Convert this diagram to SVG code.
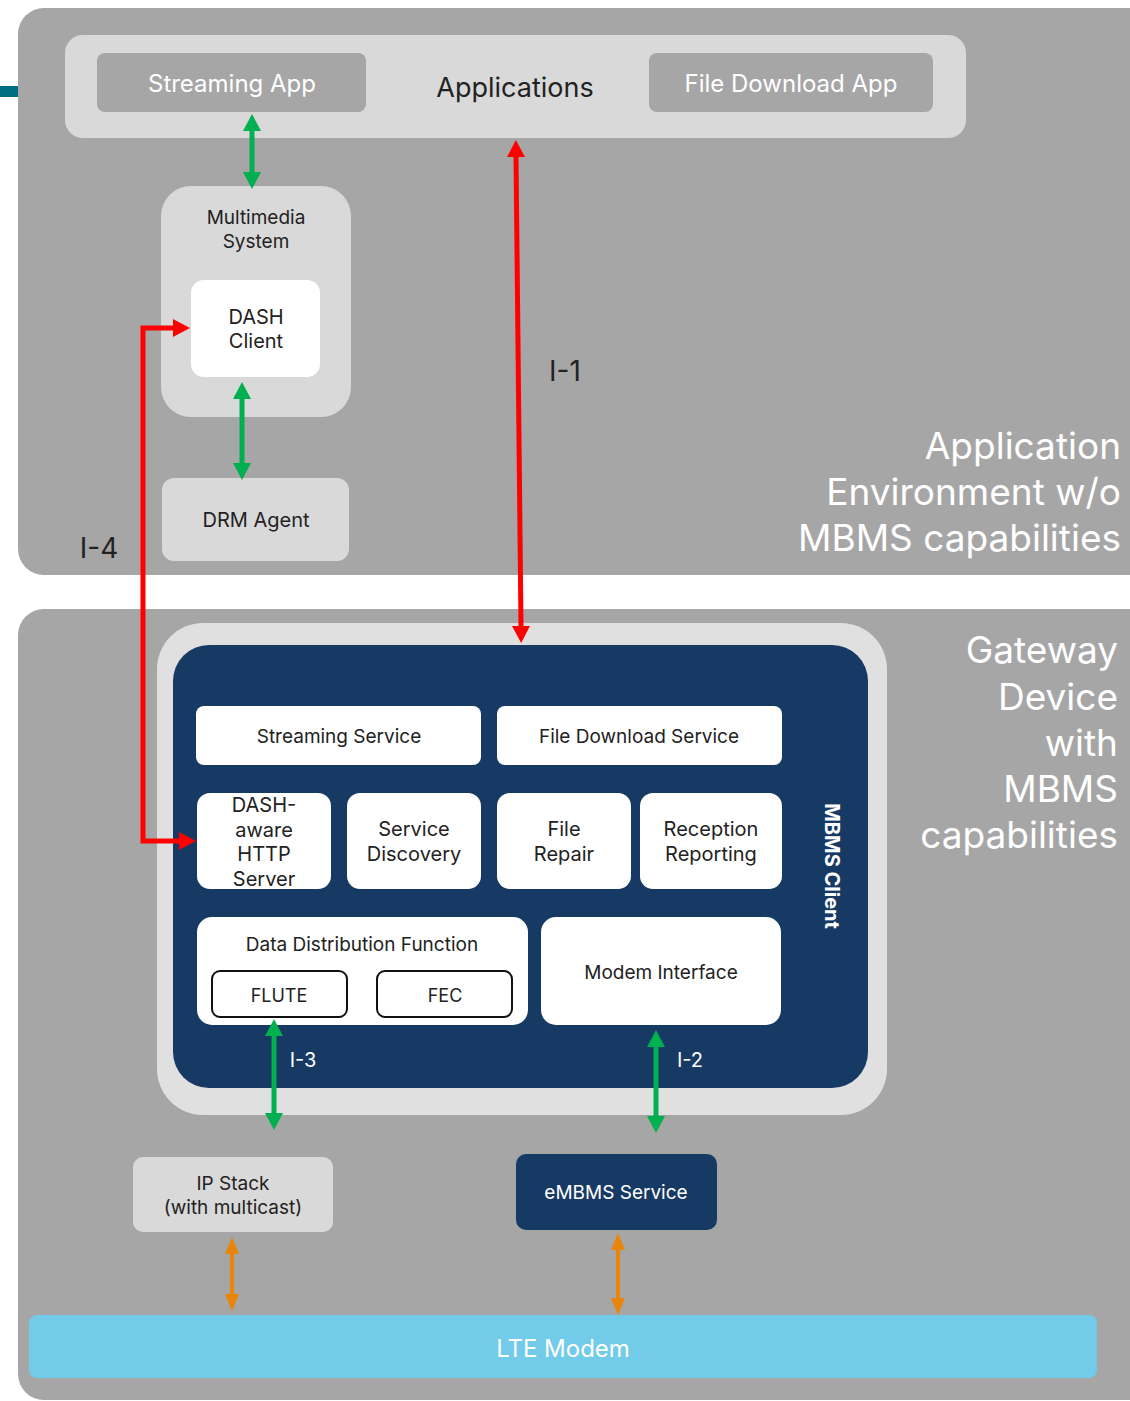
<svg xmlns="http://www.w3.org/2000/svg" width="1130" height="1401" viewBox="0 0 1130 1401">
  <style>
    text { font-family: Inter, "Open Sans", "Liberation Sans", sans-serif; text-anchor: middle; dominant-baseline: central; }
    .panel { fill: #a6a6a6; }
    .light { fill: #d9d9d9; }
    .white { fill: #ffffff; }
    .navy { fill: #173a65; }
    .dark { fill: #222222; }
    .wt { fill: #ffffff; }
    .big { font-size: 37px; fill: #ffffff; text-anchor: end; }
    .f19 { font-size: 19px; }
    .f20 { font-size: 20px; }
    .f24 { font-size: 24px; }
    .green { stroke: #00b050; stroke-width: 5; fill: none; }
    .red { stroke: #ff0000; stroke-width: 5; fill: none; }
    .orange { stroke: #e8850a; stroke-width: 4; fill: none; }
  </style>
  <defs>
    <marker id="ag" markerUnits="userSpaceOnUse" markerWidth="18" markerHeight="20" refX="1" refY="10" orient="auto-start-reverse">
      <path d="M0,1 L17,10 L0,19 z" fill="#00b050"/>
    </marker>
    <marker id="ar" markerUnits="userSpaceOnUse" markerWidth="18" markerHeight="20" refX="1" refY="10" orient="auto-start-reverse">
      <path d="M0,1 L17,10 L0,19 z" fill="#ff0000"/>
    </marker>
    <marker id="ao" markerUnits="userSpaceOnUse" markerWidth="18" markerHeight="16" refX="1" refY="8" orient="auto-start-reverse">
      <path d="M0,1 L17,8 L0,15 z" fill="#e8850a"/>
    </marker>
  </defs>

  <rect width="1130" height="1401" fill="#ffffff"/>
  <!-- teal rule at the left edge -->
  <rect x="0" y="86" width="20" height="11" fill="#007080"/>

  <!-- upper environment -->
  <g id="app-environment">
    <rect class="panel" x="18" y="8" width="1140" height="567" rx="26"/>
    <text class="big" x="1121" y="445">Application</text>
    <text class="big" x="1121" y="491">Environment w/o</text>
    <text class="big" x="1121" y="537">MBMS capabilities</text>
  </g>

  <g id="applications">
    <rect class="light" x="65" y="35" width="901" height="103" rx="18"/>
    <text class="dark" x="515" y="87" font-size="27">Applications</text>
  </g>
  <g id="streaming-app">
    <rect class="panel" x="97" y="53" width="269" height="59" rx="8"/>
    <text class="wt f24" x="232" y="83">Streaming App</text>
  </g>
  <g id="file-download-app">
    <rect class="panel" x="649" y="53" width="284" height="59" rx="8"/>
    <text class="wt f24" x="791" y="83">File Download App</text>
  </g>

  <g id="multimedia-system">
    <rect class="light" x="161" y="186" width="190" height="231" rx="30"/>
    <text class="dark f19" x="256" y="217">Multimedia</text>
    <text class="dark f19" x="256" y="241">System</text>
  </g>
  <g id="dash-client">
    <rect class="white" x="191" y="280" width="129" height="97" rx="13"/>
    <text class="dark f20" x="256" y="317">DASH</text>
    <text class="dark f20" x="256" y="341">Client</text>
  </g>
  <g id="drm-agent">
    <rect class="light" x="162" y="478" width="187" height="83" rx="12"/>
    <text class="dark f20" x="256" y="520">DRM Agent</text>
  </g>

  <!-- gateway device -->
  <g id="gateway-device">
    <rect class="panel" x="18" y="609" width="1140" height="791" rx="26"/>
    <text class="big" x="1118" y="649">Gateway</text>
    <text class="big" x="1118" y="696">Device</text>
    <text class="big" x="1118" y="742">with</text>
    <text class="big" x="1118" y="788">MBMS</text>
    <text class="big" x="1118" y="834">capabilities</text>
  </g>

  <g id="mbms-client">
    <rect x="157" y="623" width="730" height="492" rx="46" fill="#e0e0e0"/>
    <rect class="navy" x="173" y="645" width="695" height="443" rx="36"/>
    <text class="wt" x="832" y="866" font-size="20" font-weight="bold" transform="rotate(90 832 866)">MBMS Client</text>
  </g>

  <g id="streaming-service">
    <rect class="white" x="196" y="706" width="285" height="59" rx="8"/>
    <text class="dark f19" x="339" y="736">Streaming Service</text>
  </g>
  <g id="file-download-service">
    <rect class="white" x="497" y="706" width="285" height="59" rx="8"/>
    <text class="dark f19" x="639" y="736">File Download Service</text>
  </g>
  <g id="dash-http-server">
    <rect class="white" x="197" y="793" width="134" height="96" rx="13"/>
    <text class="dark f20" x="264" y="805">DASH-</text>
    <text class="dark f20" x="264" y="830">aware</text>
    <text class="dark f20" x="264" y="854">HTTP</text>
    <text class="dark f20" x="264" y="879">Server</text>
  </g>
  <g id="service-discovery">
    <rect class="white" x="347" y="793" width="134" height="96" rx="13"/>
    <text class="dark f20" x="414" y="829">Service</text>
    <text class="dark f20" x="414" y="854">Discovery</text>
  </g>
  <g id="file-repair">
    <rect class="white" x="497" y="793" width="134" height="96" rx="13"/>
    <text class="dark f20" x="564" y="829">File</text>
    <text class="dark f20" x="564" y="854">Repair</text>
  </g>
  <g id="reception-reporting">
    <rect class="white" x="640" y="793" width="142" height="96" rx="13"/>
    <text class="dark f20" x="711" y="829">Reception</text>
    <text class="dark f20" x="711" y="854">Reporting</text>
  </g>
  <g id="data-distribution">
    <rect class="white" x="197" y="917" width="331" height="108" rx="15"/>
    <text class="dark f19" x="362" y="944">Data Distribution Function</text>
  </g>
  <g id="flute">
    <rect x="212" y="971" width="135" height="46" rx="8" fill="#ffffff" stroke="#111" stroke-width="2"/>
    <text class="dark" x="279" y="995" font-size="18">FLUTE</text>
  </g>
  <g id="fec">
    <rect x="377" y="971" width="135" height="46" rx="8" fill="#ffffff" stroke="#111" stroke-width="2"/>
    <text class="dark" x="445" y="995" font-size="18">FEC</text>
  </g>
  <g id="modem-interface">
    <rect class="white" x="541" y="917" width="240" height="108" rx="15"/>
    <text class="dark f19" x="661" y="972">Modem Interface</text>
  </g>

  <g id="ip-stack">
    <rect class="light" x="133" y="1157" width="200" height="75" rx="10"/>
    <text class="dark f19" x="233" y="1183">IP Stack</text>
    <text class="dark f19" x="233" y="1207">(with multicast)</text>
  </g>
  <g id="embms-service">
    <rect class="navy" x="516" y="1154" width="201" height="76" rx="10"/>
    <text class="wt f19" x="616" y="1192">eMBMS Service</text>
  </g>
  <g id="lte-modem">
    <rect x="29" y="1315" width="1068" height="63" rx="8" fill="#72cbe8"/>
    <text class="wt f24" x="563" y="1348">LTE Modem</text>
  </g>

  <!-- connectors -->
  <g id="connectors">
    <line class="green" x1="252" y1="130" x2="252" y2="173" marker-start="url(#ag)" marker-end="url(#ag)"/>
    <line class="green" x1="242" y1="398" x2="242" y2="464" marker-start="url(#ag)" marker-end="url(#ag)"/>
    <line class="red" x1="516" y1="156" x2="521" y2="627" marker-start="url(#ar)" marker-end="url(#ar)"/>
    <path class="red" d="M174,328 L143,328 L143,841 L180,841" marker-start="url(#ar)" marker-end="url(#ar)"/>
    <line class="green" x1="274" y1="1035" x2="274" y2="1114" marker-start="url(#ag)" marker-end="url(#ag)"/>
    <line class="green" x1="656" y1="1046" x2="656" y2="1117" marker-start="url(#ag)" marker-end="url(#ag)"/>
    <line class="orange" x1="232" y1="1253" x2="232" y2="1295" marker-start="url(#ao)" marker-end="url(#ao)"/>
    <line class="orange" x1="618" y1="1249" x2="618" y2="1299" marker-start="url(#ao)" marker-end="url(#ao)"/>
    <text class="dark" x="565" y="371" font-size="28">I-1</text>
    <text class="dark" x="99" y="548" font-size="28">I-4</text>
    <text class="wt f20" x="303" y="1060">I-3</text>
    <text class="wt f20" x="690" y="1060">I-2</text>
  </g>
</svg>
